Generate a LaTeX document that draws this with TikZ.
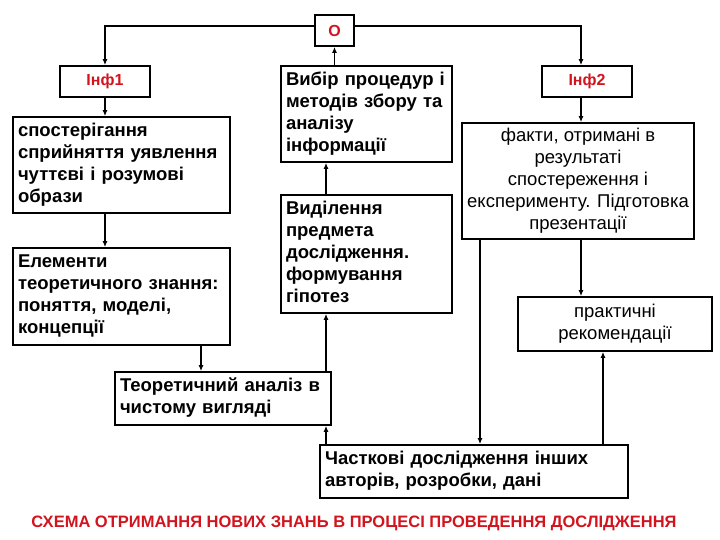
\documentclass[tikz,border=0pt]{standalone}
\usepackage{fontspec}
\setmainfont{Liberation Sans}
\usetikzlibrary{arrows.meta}
\definecolor{myred}{RGB}{210,20,30}
\newcommand{\rtab}[2][l]{\begin{tabular}{@{}#1@{}}#2\end{tabular}}
\begin{document}
\begin{tikzpicture}[x=1pt,y=-1pt,
 box/.style={draw, line width=1.7pt, inner sep=0pt, inner xsep=5pt, font=\fontsize{18.5}{22}\selectfont},
 lbox/.style={box, font=\bfseries\fontsize{18.5}{22}\selectfont, align=left},
 cbox/.style={box, align=center},
 rbox/.style={draw, line width=1.7pt, inner sep=0pt, text=myred, font=\bfseries\fontsize{16}{19}\selectfont},
 arr/.style={line width=1.3pt, -{Latex[length=6pt,width=5pt]}}]
\fill[white] (0,0) rectangle (720,540);
\useasboundingbox (0,0) rectangle (720,540);

\node[rbox, minimum width=39pt, minimum height=31pt] (O) at (334.5,30.5) {О};
\node[rbox, minimum width=90pt, minimum height=31pt] (inf1) at (105,81.5) {Інф1};
\node[rbox, minimum width=90pt, minimum height=31pt] (inf2) at (587,81.5) {Інф2};

\node[lbox, text width=207pt, minimum height=96pt] (sp) at (121.5,165) {\rtab{спостерігання\\сприйняття уявлення\\чуттєві і розумові\\образи}};
\node[lbox, text width=207pt, minimum height=97pt] (el) at (121.5,296.5) {\rtab{Елементи\\теоретичного знання:\\поняття, моделі,\\концепції}};
\node[lbox, text width=161pt, minimum height=96pt] (vybir) at (366.5,114) {\rtab{Вибір процедур і\\методів збору та\\аналізу\\інформації}};
\node[lbox, text width=161pt, minimum height=118pt] (vyd) at (366.5,254) {\rtab{Виділення\\предмета\\дослідження.\\формування\\гіпотез}};
\node[lbox, text width=206pt, minimum height=53pt] (teor) at (223,398.5) {\rtab{Теоретичний аналіз в\\чистому вигляді}};
\node[lbox, text width=298pt, minimum height=53pt] (chast) at (474,471.5) {\rtab{Часткові дослідження інших\\авторів, розробки, дані}};

\node[cbox, minimum width=232pt, minimum height=116pt] (fakty) at (578,181) {\rtab[c]{факти, отримані в\\результаті\\спостереження і\\експерименту. Підготовка\\презентації}};
\node[cbox, minimum width=194pt, minimum height=54pt] (prakt) at (615,324) {\rtab[c]{практичні\\рекомендації}};

\node[text=myred, font=\bfseries\fontsize{16.5}{19}\selectfont] (title) at (354,523) {СХЕМА ОТРИМАННЯ НОВИХ ЗНАНЬ В ПРОЦЕСІ ПРОВЕДЕННЯ ДОСЛІДЖЕННЯ};

\coordinate (x201) at (201,0);
\coordinate (x326) at (326,0);
\coordinate (x480) at (480,0);
\coordinate (x581) at (581,0);
\coordinate (x603) at (603,0);

\draw[arr] ([yshift=4.5pt]O.west) -| (inf1.north);
\draw[arr] ([yshift=4.5pt]O.east) -| (x581 |- inf2.north);
\draw[arr] (vybir.north -| O.south) -- (O.south);
\draw[arr] (inf1.south) -- (inf1.south |- sp.north);
\draw[arr] (sp.south -| inf1.south) -- (el.north -| inf1.south);
\draw[arr] (x201 |- el.south) -- (x201 |- teor.north);
\draw[arr] (x326 |- vyd.north) -- (x326 |- vybir.south);
\draw[arr] (x326 |- teor.north) -- (x326 |- vyd.south);
\draw[arr] (x326 |- chast.north) -- (x326 |- teor.south);
\draw[arr] (x581 |- inf2.south) -- (x581 |- fakty.north);
\draw[arr] (x581 |- fakty.south) -- (x581 |- prakt.north);
\draw[arr] (x480 |- fakty.south) -- (x480 |- chast.north);
\draw[arr] (x603 |- chast.north) -- (x603 |- prakt.south);
\end{tikzpicture}
\end{document}
